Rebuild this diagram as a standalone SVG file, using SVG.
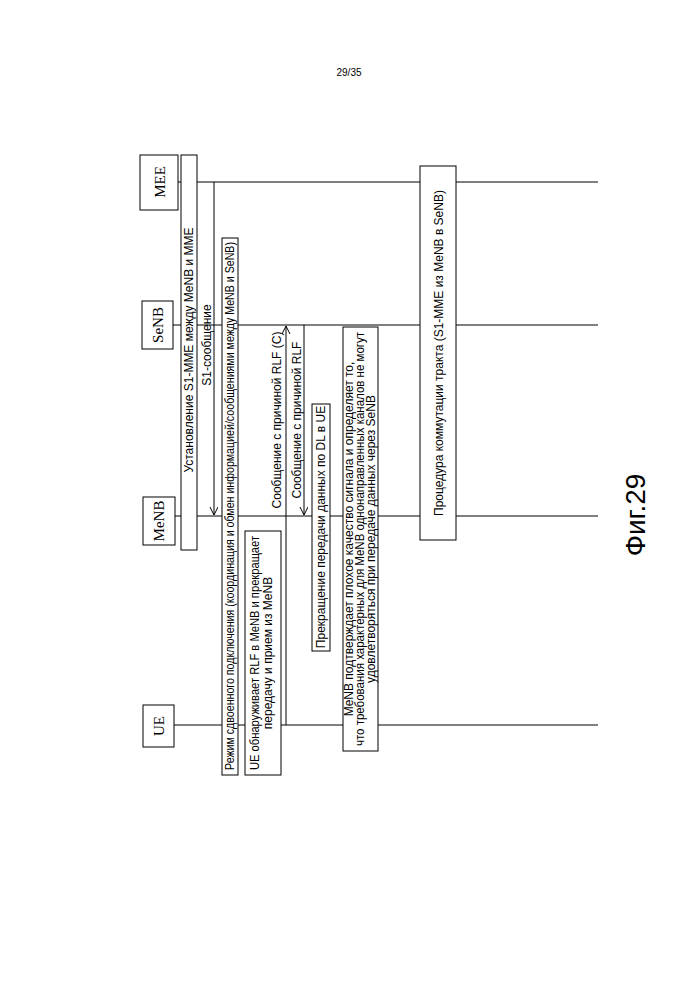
<svg xmlns="http://www.w3.org/2000/svg" width="698" height="999" viewBox="0 0 698 999">
<style>
.t{font-family:"Liberation Sans",Arial,sans-serif;font-size:12px;fill:#000}
.e{font-family:"Liberation Serif",serif;font-size:15px;fill:#000}
.b{fill:#fff;stroke:#000;stroke-width:1}
.l{stroke:#000;stroke-width:1;fill:none}
</style>
<defs><marker id="a" markerWidth="10" markerHeight="10" refX="8" refY="4" orient="auto" markerUnits="userSpaceOnUse"><path d="M0,0 L8,4 L0,8" fill="none" stroke="#000"/></marker></defs>
<rect width="698" height="999" fill="#fff"/>
<text class="t" x="349" y="76" text-anchor="middle" style="font-size:10px">29/35</text>
<g id="lifelines">
<line class="l" x1="178" y1="182" x2="598" y2="182"/>
<line class="l" x1="172" y1="325" x2="598" y2="325"/>
<line class="l" x1="175" y1="516" x2="598" y2="516"/>
<line class="l" x1="173" y1="725" x2="598" y2="725"/>
</g>
<g id="MEE"><rect class="b" x="140" y="155" width="38" height="55"/><text class="e" transform="translate(165,182) rotate(-90)" text-anchor="middle">MEE</text></g>
<g id="SeNB"><rect class="b" x="142" y="301" width="31" height="48"/><text class="e" transform="translate(163,325) rotate(-90)" text-anchor="middle">SeNB</text></g>
<g id="MeNB"><rect class="b" x="143" y="497" width="32" height="48"/><text class="e" transform="translate(164,521) rotate(-90)" text-anchor="middle">MeNB</text></g>
<g id="UE"><rect class="b" x="143" y="705" width="31" height="42"/><text class="e" transform="translate(164,726) rotate(-90)" text-anchor="middle">UE</text></g>
<g id="s1mme"><rect class="b" x="181" y="155" width="16" height="395"/><text class="t" transform="translate(193,350) rotate(-90)" text-anchor="middle">Установление S1-MME между MeNB и MME</text></g>
<g id="dual"><rect class="b" x="222" y="238" width="16" height="537"/><text class="t" transform="translate(234,506) rotate(-90)" text-anchor="middle" textLength="528" lengthAdjust="spacingAndGlyphs">Режим сдвоенного подключения (координация и обмен информацией/сообщениями между MeNB и SeNB)</text></g>
<g id="uerlf"><rect class="b" x="245" y="531" width="36" height="244"/><text class="t" transform="translate(259,653) rotate(-90)" text-anchor="middle" textLength="234" lengthAdjust="spacingAndGlyphs">UE обнаруживает RLF в MeNB и прекращает</text><text class="t" transform="translate(272,653) rotate(-90)" text-anchor="middle">передачу и прием из MeNB</text></g>
<g id="stopdl"><rect class="b" x="312" y="404" width="18" height="247"/><text class="t" transform="translate(325,527) rotate(-90)" text-anchor="middle">Прекращение передачи данных по DL в UE</text></g>
<g id="menbconf"><rect class="b" x="343" y="327" width="35" height="424"/><text class="t" transform="translate(353,539) rotate(-90)" text-anchor="middle">MeNB подтверждает плохое качество сигнала и определяет то,</text><text class="t" transform="translate(364,539) rotate(-90)" text-anchor="middle" textLength="414" lengthAdjust="spacingAndGlyphs">что требования характерных для MeNB однонаправленных каналов не могут</text><text class="t" transform="translate(375,539) rotate(-90)" text-anchor="middle">удовлетворяться при передаче данных через SeNB</text></g>
<g id="pathsw"><rect class="b" x="420" y="166" width="36" height="374"/><text class="t" transform="translate(443,353) rotate(-90)" text-anchor="middle">Процедура коммутации тракта (S1-MME из MeNB в SeNB)</text></g>
<g id="connectors">
<line class="l" x1="214" y1="182" x2="214" y2="515" marker-end="url(#a)"/>
<text class="t" transform="translate(211,345) rotate(-90)" text-anchor="middle">S1-сообщение</text>
<line class="l" x1="286" y1="725" x2="286" y2="326" marker-end="url(#a)"/>
<text class="t" transform="translate(281,420) rotate(-90)" text-anchor="middle">Сообщение с причиной RLF (C)</text>
<line class="l" x1="304" y1="325" x2="304" y2="515" marker-end="url(#a)"/>
<text class="t" transform="translate(301,420) rotate(-90)" text-anchor="middle">Сообщение с причиной RLF</text>
</g>
<text transform="translate(645,515) rotate(-90)" text-anchor="middle" style="font-family:'Liberation Sans',Arial,sans-serif;font-size:28px">Фиг.29</text>
</svg>
